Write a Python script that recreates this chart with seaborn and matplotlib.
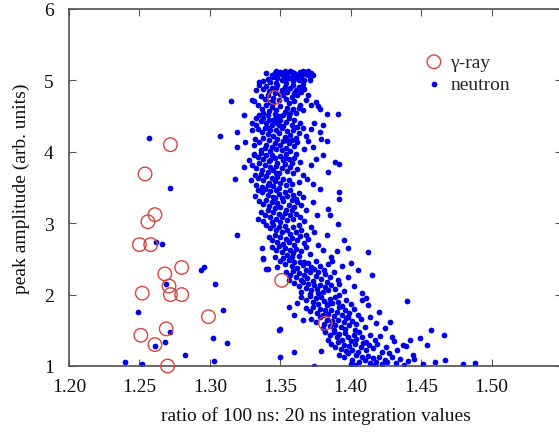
import matplotlib
matplotlib.use("Agg")
import matplotlib.pyplot as plt
import seaborn as sns
import pandas as pd

# gamma-ray events (open red circles)
gamma_x = [1.261, 1.256, 1.250, 1.258, 1.268, 1.280, 1.252, 1.271, 1.272, 1.280,
           1.299, 1.269, 1.251, 1.261, 1.270, 1.272, 1.254, 1.346, 1.351, 1.382]
gamma_y = [3.12, 3.02, 2.70, 2.70, 2.29, 2.38, 2.02, 2.12, 2.00, 2.00,
           1.69, 1.52, 1.43, 1.30, 1.00, 4.10, 3.69, 4.76, 2.20, 1.60]

# neutron events
neutron_cap = [
    (1.341,5.02),(1.344,5.08),(1.346,5.11),(1.348,5.04),(1.350,5.12),(1.352,5.07),(1.353,5.01),(1.355,5.10),
    (1.357,5.13),(1.358,5.05),(1.360,5.11),(1.361,5.03),(1.362,5.08),(1.364,5.12),(1.365,5.06),(1.366,5.13),
    (1.367,5.01),(1.368,5.09),(1.369,5.12),(1.371,5.05),(1.372,5.11),(1.343,4.98),(1.347,4.96),(1.351,5.00),
    (1.354,4.97),(1.356,5.04),(1.359,4.99),(1.363,5.00),(1.349,5.09),(1.345,5.05),(1.338,4.99),(1.370,5.13),
    (1.366,5.09),(1.358,5.12),(1.353,5.13),(1.362,5.04),(1.347,5.13),(1.355,5.06),(1.373,5.08),(1.340,5.10),
]
neutron_upper = [
    (1.335,4.93),(1.338,4.88),(1.340,4.92),(1.342,4.85),(1.344,4.90),(1.346,4.82),(1.348,4.94),(1.351,4.87),
    (1.353,4.91),(1.355,4.84),(1.357,4.89),(1.359,4.93),(1.361,4.86),(1.363,4.91),(1.365,4.84),(1.367,4.88),
    (1.336,4.78),(1.339,4.74),(1.341,4.80),(1.343,4.70),(1.345,4.76),(1.349,4.72),(1.352,4.79),(1.354,4.74),
    (1.356,4.68),(1.358,4.77),(1.360,4.71),(1.362,4.79),(1.364,4.66),(1.334,4.65),(1.337,4.60),(1.340,4.66),
    (1.342,4.57),(1.344,4.63),(1.347,4.59),(1.350,4.64),(1.353,4.56),(1.355,4.62),(1.357,4.54),(1.359,4.60),
    (1.361,4.55),(1.363,4.61),(1.366,4.58),(1.335,4.52),(1.338,4.55),(1.341,4.51),(1.346,4.53),(1.349,4.50),
    (1.352,4.52),(1.356,4.51),(1.368,4.73),(1.370,4.80),(1.372,4.66),(1.375,4.70),(1.366,4.95),(1.333,4.86),
    (1.331,4.71),(1.378,4.60),(1.350,4.81),(1.345,4.69),(1.360,4.82),(1.347,4.89),
    (1.377,4.64),(1.383,4.53),(1.391,4.53),(1.371,5.00),(1.370,5.07),(1.366,4.89),
    (1.333,4.47),(1.336,4.43),(1.338,4.48),(1.340,4.40),(1.342,4.45),(1.344,4.37),(1.346,4.46),(1.348,4.41),
    (1.350,4.44),(1.352,4.36),(1.354,4.42),(1.356,4.47),(1.358,4.38),(1.360,4.44),(1.362,4.35),(1.364,4.41),
    (1.334,4.32),(1.337,4.28),(1.339,4.34),(1.341,4.25),(1.343,4.30),(1.345,4.22),(1.347,4.31),(1.349,4.26),
    (1.351,4.33),(1.353,4.21),(1.355,4.29),(1.357,4.24),(1.359,4.31),(1.361,4.20),(1.363,4.27),(1.366,4.33),
    (1.332,4.18),(1.335,4.14),(1.338,4.19),(1.340,4.10),(1.342,4.16),(1.344,4.07),(1.346,4.13),(1.348,4.18),
    (1.350,4.09),(1.352,4.15),(1.354,4.05),(1.356,4.12),(1.358,4.17),(1.360,4.08),(1.362,4.14),(1.336,4.03),
    (1.339,4.06),(1.343,4.01),(1.347,4.04),(1.351,4.02),(1.357,4.01),(1.368,4.22),(1.370,4.15),(1.367,4.04),
    (1.374,4.40),(1.330,4.40),(1.331,4.09),(1.349,4.38),(1.341,4.34),(1.355,4.17),(1.345,4.44),
    (1.380,4.37),(1.372,4.32),(1.378,4.28),(1.379,4.18),(1.383,4.15),(1.373,4.07),
]
neutron_middle = [
    (1.331,3.97),(1.334,3.93),(1.336,3.98),(1.338,3.90),(1.340,3.95),(1.342,3.87),(1.344,3.96),(1.346,3.91),
    (1.348,3.85),(1.350,3.94),(1.352,3.88),(1.354,3.97),(1.356,3.90),(1.358,3.84),(1.360,3.92),(1.330,3.82),
    (1.333,3.78),(1.335,3.84),(1.337,3.75),(1.339,3.81),(1.341,3.72),(1.343,3.79),(1.345,3.74),(1.347,3.80),
    (1.349,3.71),(1.351,3.77),(1.353,3.83),(1.355,3.73),(1.357,3.79),(1.359,3.70),(1.362,3.76),(1.332,3.67),
    (1.334,3.63),(1.336,3.69),(1.338,3.60),(1.340,3.66),(1.342,3.57),(1.344,3.64),(1.346,3.59),(1.348,3.65),
    (1.350,3.56),(1.352,3.62),(1.354,3.54),(1.356,3.61),(1.358,3.55),(1.333,3.53),(1.337,3.51),(1.341,3.54),
    (1.345,3.52),(1.349,3.50),(1.364,3.86),(1.366,3.68),(1.363,3.58),(1.328,3.88),(1.329,3.60),(1.353,3.92),
    (1.343,3.88),(1.361,3.97),(1.347,3.70),
    (1.389,3.86),(1.392,3.83),(1.380,3.95),(1.372,3.81),(1.384,3.72),(1.373,3.55),(1.369,3.62),(1.375,3.90),
    (1.334,3.47),(1.337,3.43),(1.339,3.48),(1.341,3.40),(1.343,3.45),(1.345,3.37),(1.347,3.46),(1.349,3.41),
    (1.351,3.35),(1.353,3.44),(1.355,3.38),(1.357,3.47),(1.359,3.40),(1.361,3.34),(1.363,3.42),(1.335,3.31),
    (1.338,3.27),(1.340,3.33),(1.342,3.24),(1.344,3.30),(1.346,3.21),(1.348,3.28),(1.350,3.23),(1.352,3.31),
    (1.354,3.19),(1.356,3.26),(1.358,3.32),(1.360,3.22),(1.362,3.29),(1.365,3.25),(1.336,3.16),(1.339,3.12),
    (1.341,3.18),(1.343,3.09),(1.345,3.15),(1.347,3.06),(1.349,3.13),(1.351,3.08),(1.353,3.14),(1.355,3.04),
    (1.357,3.11),(1.359,3.06),(1.361,3.13),(1.364,3.08),(1.338,3.03),(1.344,3.01),(1.350,3.02),(1.366,3.36),
    (1.368,3.18),(1.367,3.03),(1.332,3.38),(1.358,3.19),(1.346,3.35),
    (1.378,3.48),(1.392,3.44),(1.392,3.34),(1.384,3.20),(1.385,3.11),(1.391,2.99),(1.373,3.30),(1.376,3.12),
    (1.340,2.97),(1.343,2.93),(1.345,2.98),(1.347,2.90),(1.349,2.95),(1.351,2.87),(1.353,2.96),(1.355,2.91),
    (1.357,2.85),(1.359,2.94),(1.361,2.88),(1.363,2.97),(1.365,2.90),(1.368,2.84),(1.342,2.81),(1.344,2.77),
    (1.346,2.83),(1.348,2.74),(1.350,2.80),(1.352,2.71),(1.354,2.78),(1.356,2.73),(1.358,2.79),(1.360,2.70),
    (1.362,2.76),(1.364,2.82),(1.367,2.72),(1.370,2.78),(1.344,2.66),(1.347,2.62),(1.349,2.68),(1.351,2.59),
    (1.353,2.65),(1.355,2.56),(1.357,2.63),(1.359,2.58),(1.361,2.64),(1.363,2.54),(1.365,2.61),(1.368,2.66),
    (1.371,2.57),(1.346,2.53),(1.352,2.51),(1.358,2.52),(1.374,2.88),(1.377,2.70),(1.380,2.62),(1.372,2.95),
    (1.398,2.65),(1.390,2.61),(1.412,2.59),(1.383,2.83),(1.395,2.76),(1.386,2.52),
]
neutron_tail = [
    (1.350,2.47),(1.353,2.43),(1.356,2.48),(1.358,2.40),(1.360,2.45),(1.362,2.37),(1.364,2.46),(1.366,2.41),
    (1.368,2.35),(1.370,2.44),(1.372,2.38),(1.375,2.47),(1.378,2.40),(1.381,2.34),(1.384,2.43),(1.354,2.31),
    (1.357,2.27),(1.359,2.33),(1.361,2.24),(1.363,2.30),(1.365,2.21),(1.367,2.28),(1.369,2.23),(1.371,2.31),
    (1.373,2.19),(1.375,2.26),(1.377,2.32),(1.379,2.22),(1.382,2.29),(1.385,2.25),(1.388,2.31),(1.391,2.20),
    (1.360,2.16),(1.363,2.12),(1.366,2.18),(1.368,2.09),(1.370,2.15),(1.372,2.06),(1.374,2.13),(1.376,2.08),
    (1.378,2.14),(1.380,2.04),(1.382,2.11),(1.384,2.06),(1.386,2.13),(1.389,2.08),(1.392,2.15),(1.395,2.05),
    (1.365,2.03),(1.371,2.01),(1.377,2.02),(1.398,2.24),(1.402,2.12),(1.405,2.35),(1.356,2.20),(1.348,2.38),
    (1.394,2.40),(1.387,2.47),(1.374,2.36),(1.383,2.17),(1.367,2.45),
    (1.415,2.28),(1.408,2.02),(1.341,2.36),(1.338,2.50),(1.400,2.44),
    (1.365,1.97),(1.368,1.93),(1.371,1.98),(1.373,1.90),(1.375,1.95),(1.377,1.87),(1.379,1.96),(1.381,1.91),
    (1.383,1.85),(1.385,1.94),(1.387,1.88),(1.389,1.97),(1.391,1.90),(1.394,1.84),(1.397,1.93),(1.400,1.87),
    (1.368,1.81),(1.371,1.77),(1.373,1.83),(1.376,1.74),(1.378,1.80),(1.380,1.71),(1.382,1.78),(1.384,1.73),
    (1.386,1.79),(1.388,1.70),(1.390,1.76),(1.392,1.82),(1.394,1.72),(1.396,1.78),(1.399,1.74),(1.402,1.80),
    (1.405,1.71),(1.372,1.66),(1.375,1.62),(1.378,1.68),(1.381,1.59),(1.383,1.65),(1.385,1.56),(1.387,1.63),
    (1.389,1.58),(1.391,1.64),(1.393,1.54),(1.395,1.61),(1.397,1.67),(1.399,1.57),(1.401,1.63),(1.404,1.59),
    (1.407,1.66),(1.410,1.55),(1.380,1.53),(1.388,1.51),(1.396,1.52),(1.403,1.51),(1.412,1.86),(1.408,1.93),
    (1.362,1.88),(1.360,1.72),(1.414,1.68),(1.418,1.60),(1.392,1.99),(1.384,1.87),(1.398,1.69),
    (1.411,1.95),(1.440,1.91),(1.424,1.53),(1.356,1.82),(1.366,1.65),(1.420,1.75),(1.428,1.62),
    (1.382,1.47),(1.385,1.43),(1.388,1.48),(1.390,1.40),(1.392,1.45),(1.394,1.37),(1.396,1.46),(1.398,1.41),
    (1.400,1.35),(1.402,1.44),(1.404,1.38),(1.406,1.47),(1.408,1.40),(1.411,1.34),(1.414,1.43),(1.417,1.37),
    (1.386,1.31),(1.389,1.27),(1.391,1.33),(1.393,1.24),(1.395,1.30),(1.397,1.21),(1.399,1.28),(1.401,1.23),
    (1.403,1.31),(1.405,1.19),(1.407,1.26),(1.409,1.32),(1.411,1.22),(1.413,1.29),(1.416,1.25),(1.419,1.31),
    (1.422,1.20),(1.425,1.27),(1.392,1.16),(1.395,1.12),(1.398,1.18),(1.401,1.09),(1.404,1.15),(1.406,1.06),
    (1.408,1.13),(1.410,1.08),(1.412,1.14),(1.414,1.04),(1.416,1.11),(1.418,1.06),(1.420,1.13),(1.422,1.03),
    (1.424,1.09),(1.426,1.05),(1.429,1.12),(1.432,1.04),(1.435,1.10),(1.438,1.02),(1.441,1.07),(1.444,1.15),
    (1.400,1.03),(1.403,1.01),(1.417,1.02),(1.427,1.18),(1.433,1.22),(1.437,1.30),(1.421,1.42),(1.384,1.37),
    (1.379,1.21),
    (1.457,1.51),(1.466,1.44),(1.449,1.39),(1.454,1.30),(1.442,1.36),(1.467,1.08),(1.480,1.03),(1.488,1.04),
    (1.445,1.10),(1.451,1.03),(1.431,1.35),(1.429,1.41),(1.439,1.28),(1.350,1.52),(1.350,1.12),(1.360,1.20),
    (1.374,1.00),(1.349,1.51),(1.460,1.05),
]
neutron_stray = [
    (1.262,2.74),(1.266,2.71),(1.294,2.35),(1.296,2.39),(1.269,2.15),(1.304,2.15),(1.249,1.75),(1.309,1.79),
    (1.272,1.47),(1.268,1.33),(1.261,1.28),(1.302,1.39),(1.312,1.32),(1.282,1.15),(1.303,1.07),(1.240,1.06),
    (1.252,1.03),(1.257,4.20),(1.272,3.50),(1.315,4.71),(1.307,4.22),(1.318,3.62),(1.319,4.28),(1.324,4.51),
    (1.325,4.14),(1.324,3.79),(1.319,4.07),(1.330,4.72),(1.330,4.30),(1.333,4.37),(1.331,3.95),(1.335,4.98),
    (1.319,2.84),(1.334,3.06),(1.338,2.51),(1.340,2.36),(1.337,2.65),
]

neutron = pd.DataFrame(neutron_cap + neutron_upper + neutron_middle + neutron_tail + neutron_stray,
                       columns=["ratio", "amp"])
gamma = pd.DataFrame({"ratio": gamma_x, "amp": gamma_y})

sns.set_style("ticks")
plt.rcParams["font.family"] = ["Liberation Serif", "DejaVu Serif"]

fig = plt.figure(figsize=(5.59, 4.35), dpi=100)
ax = fig.add_axes([69/559, 1 - 367/435, 493/559, 357/435])

sns.scatterplot(data=neutron, x="ratio", y="amp", ax=ax, color="#0000e6", s=17,
                linewidth=0, label="neutron", zorder=2)
sns.scatterplot(data=gamma, x="ratio", y="amp", ax=ax, facecolor="none", edgecolor="#d9443f",
                s=95, linewidth=1.0, marker="o", label="γ-ray", zorder=3, clip_on=False)

ax.set_xlim(1.20, 1.55)
ax.set_ylim(1, 6)
ax.set_xticks([1.20, 1.25, 1.30, 1.35, 1.40, 1.45, 1.50])
ax.set_xticklabels(["1.20", "1.25", "1.30", "1.35", "1.40", "1.45", "1.50"])
ax.set_yticks([1, 2, 3, 4, 5, 6])
ax.tick_params(direction="in", top=True, right=True, length=5, width=0.8,
               labelsize=14, colors="#555555", labelcolor="#111111")
ax.tick_params(axis="x", pad=9)
ax.tick_params(axis="y", pad=11)
for sp in ax.spines.values():
    sp.set_color("#505050")
    sp.set_linewidth(1.2)

ax.set_xlabel("ratio of 100 ns: 20 ns integration values", fontsize=14, color="#111111", labelpad=8)
ax.set_ylabel("peak amplitude (arb. units)", fontsize=14, color="#111111", labelpad=10)

handles, labels = ax.get_legend_handles_labels()
ax.legend(handles[::-1], labels[::-1], frameon=False, loc="upper left",
          bbox_to_anchor=(0.685, 0.925), fontsize=14, handlelength=1.0,
          handletextpad=0.35, labelspacing=0.25, markerscale=1.0)

fig.savefig("out.png", dpi=100)
